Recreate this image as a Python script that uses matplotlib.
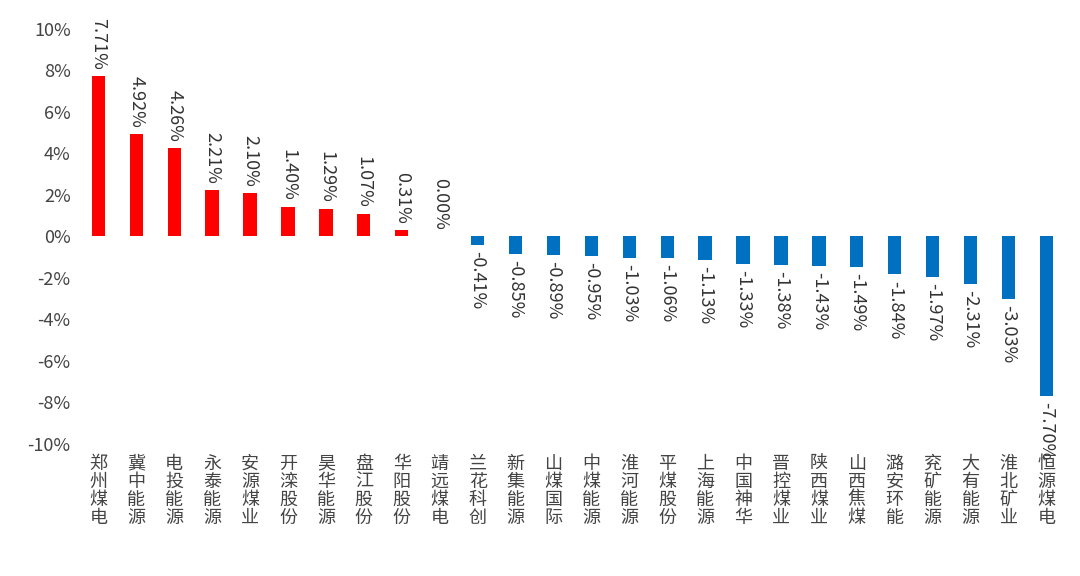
import matplotlib
matplotlib.use("Agg")
import matplotlib.pyplot as plt
from matplotlib.ticker import FuncFormatter

plt.rcParams['font.family'] = ['Noto Sans CJK SC', 'DejaVu Sans']

names = ["郑州煤电","冀中能源","电投能源","永泰能源","安源煤业","开滦股份","昊华能源","盘江股份","华阳股份","靖远煤电",
         "兰花科创","新集能源","山煤国际","中煤能源","淮河能源","平煤股份","上海能源","中国神华","晋控煤业","陕西煤业",
         "山西焦煤","潞安环能","兖矿能源","大有能源","淮北矿业","恒源煤电"]
values = [7.71,4.92,4.26,2.21,2.10,1.40,1.29,1.07,0.31,0.00,
          -0.41,-0.85,-0.89,-0.95,-1.03,-1.06,-1.13,-1.33,-1.38,-1.43,
          -1.49,-1.84,-1.97,-2.31,-3.03,-7.70]

fig = plt.figure(figsize=(10.8, 5.76), dpi=100)
ax = fig.add_axes([0.07, 0.23, 0.92, 0.72])
x = list(range(len(names)))
colors = ["#FF0000" if v >= 0 else "#0070C0" for v in values]
ax.bar(x, values, width=0.35, color=colors)
for xi, v in zip(x, values):
    if v >= 0:
        ax.text(xi, v + 0.3, f"{v:.2f}%", rotation=-90, ha="center", va="bottom", fontsize=13, color="#333333")
    else:
        ax.text(xi, v - 0.3, f"{v:.2f}%", rotation=-90, ha="center", va="top", fontsize=13, color="#333333")
ax.set_ylim(-10, 10)
ax.set_yticks(range(-10, 11, 2))
ax.yaxis.set_major_formatter(FuncFormatter(lambda v, p: f"{int(v)}%"))
ax.set_xlim(-0.6, len(names) - 0.4)
ax.set_xticks(x)
ax.set_xticklabels(["\n".join(n) for n in names], rotation=0, fontsize=13, color="#444444",
                   linespacing=1.0)
ax.tick_params(axis="y", labelsize=13, colors="#444444", length=0)
ax.tick_params(axis="x", length=0, pad=8)
for s in ax.spines.values():
    s.set_visible(False)
fig.savefig("out.png", dpi=100)
